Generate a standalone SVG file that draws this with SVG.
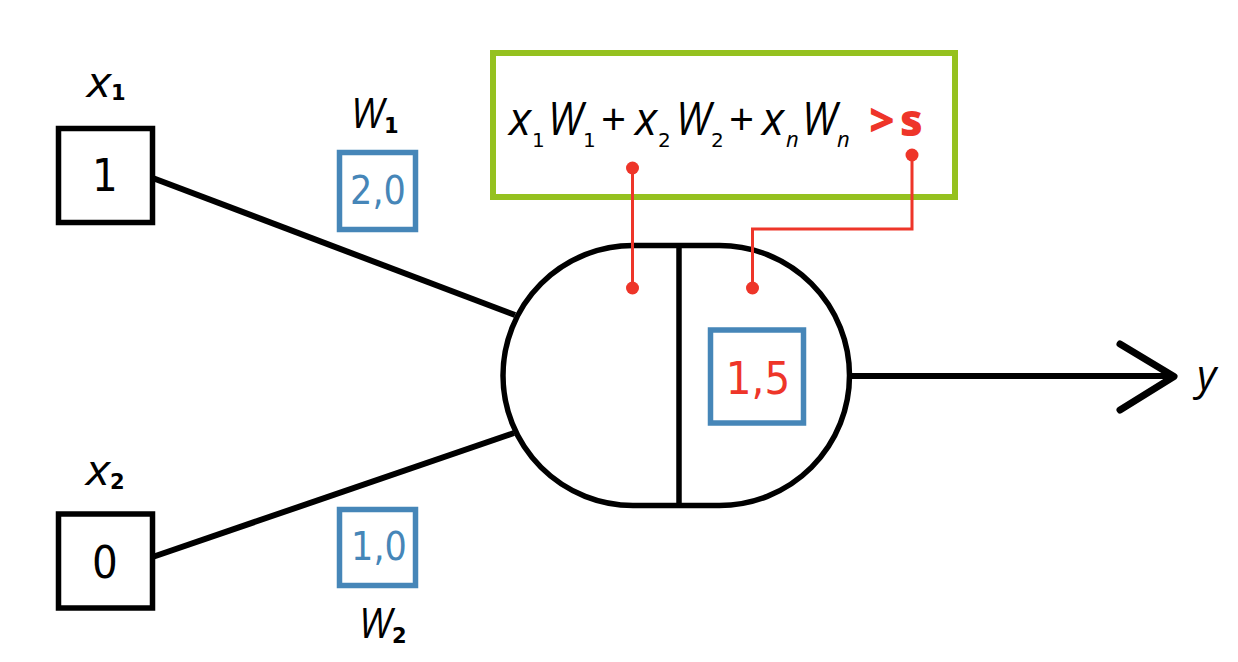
<svg xmlns="http://www.w3.org/2000/svg" width="1238" height="662" viewBox="0 0 1238 662">
<style>
.blk{fill:none;stroke:#000;stroke-width:5.500}
.blu{fill:#fff;stroke:#4686b8;stroke-width:5.500}
.red{fill:none;stroke:#ee3529;stroke-width:3}
.dot{fill:#ee3529}
text{font-family:"Open Sans",sans-serif;fill:#000}
.num{font-family:"DejaVu Sans",sans-serif;font-stretch:condensed;text-anchor:middle}
.l{font-size:42px;font-style:italic}
.sb{font-family:"DejaVu Sans",sans-serif;font-size:21px;font-weight:700;font-style:normal}
.f{font-size:46px;font-style:italic}
.s{font-family:"DejaVu Sans",sans-serif;font-size:20px;font-style:normal}
.si{font-size:22px;font-style:italic}
.p{font-size:44px;font-style:normal}
.gt{font-size:44px;font-weight:800;fill:#ee3529}
</style>
<rect width="1238" height="662" fill="#fff"/>
<g id="connectors">
<path class="blk" d="M154 178.500L515 315" style="stroke-width:6"/>
<path class="blk" d="M154 556.500L514 433" style="stroke-width:6"/>
<path class="blk" d="M851 376H1172" style="stroke-width:6"/>
<path class="blk" d="M1120 344L1174 376.500L1120 410" style="stroke-width:7;stroke-linecap:round;stroke-linejoin:round"/>
</g>
<g id="x1"><rect class="blk" x="58.500" y="128.500" width="94" height="94"/><text class="num" x="105" y="191" font-size="45">1</text>
<text class="l" x="87" y="97"><tspan textLength="24" lengthAdjust="spacingAndGlyphs">x</tspan><tspan class="sb" x="111" y="100">1</tspan></text></g>
<g id="x2"><rect class="blk" x="58.500" y="514" width="94" height="94"/><text class="num" x="105" y="578" font-size="45">0</text>
<text class="l" x="86" y="485"><tspan textLength="24" lengthAdjust="spacingAndGlyphs">x</tspan><tspan class="sb" x="110" y="489">2</tspan></text></g>
<g id="w1"><rect class="blu" x="339.500" y="152.500" width="76" height="77"/><text class="num" x="378" y="204" font-size="39" style="fill:#4686b8">2,0</text>
<text class="l" x="351" y="128"><tspan textLength="33" lengthAdjust="spacingAndGlyphs">W</tspan><tspan class="sb" x="384" y="133">1</tspan></text></g>
<g id="w2"><rect class="blu" x="339.500" y="509.500" width="76" height="76"/><text class="num" x="379" y="560" font-size="39" style="fill:#4686b8">1,0</text>
<text class="l" x="359" y="638"><tspan textLength="33" lengthAdjust="spacingAndGlyphs">W</tspan><tspan class="sb" x="392" y="643">2</tspan></text></g>
<g id="neuron">
<path class="blk" d="M633 245.500H719.500A130 130 0 0 1 719.500 505.500H633A130 130 0 0 1 633 245.500Z"/>
<path class="blk" d="M679 245V505"/>
<rect class="blu" x="710.500" y="330" width="93" height="93"/>
<text class="num" x="758" y="394" font-size="45" style="fill:#ee3529">1,5</text>
</g>
<g id="output"><text class="l" x="1197" y="390">y</text></g>
<g id="formula">
<rect x="493" y="53" width="462" height="144" fill="none" stroke="#95c11f" stroke-width="6"/>
<text class="f" x="509" y="135">x<tspan class="s" x="532" y="147">1</tspan><tspan x="548" y="135" textLength="35" lengthAdjust="spacingAndGlyphs">W</tspan><tspan class="s" x="583" y="147">1</tspan><tspan class="p" x="601" y="135">+</tspan><tspan x="635" y="135">x</tspan><tspan class="s" x="658" y="147">2</tspan><tspan x="676" y="135" textLength="35" lengthAdjust="spacingAndGlyphs">W</tspan><tspan class="s" x="711" y="147">2</tspan><tspan class="p" x="729" y="135">+</tspan><tspan x="762" y="135">x</tspan><tspan class="si" x="786" y="147">n</tspan><tspan x="802" y="135" textLength="35" lengthAdjust="spacingAndGlyphs">W</tspan><tspan class="si" x="837" y="147">n</tspan></text>
<text class="gt" x="869" y="136">&gt;<tspan x="900">s</tspan></text>
</g>
<g id="links">
<path class="red" d="M632.500 168V288"/>
<path class="red" d="M912 155V229H752.500V288"/>
<circle class="dot" cx="632.500" cy="168" r="6.500"/>
<circle class="dot" cx="632.500" cy="288" r="6.500"/>
<circle class="dot" cx="912" cy="155" r="6.500"/>
<circle class="dot" cx="752.500" cy="288" r="6.500"/>
</g>
</svg>
